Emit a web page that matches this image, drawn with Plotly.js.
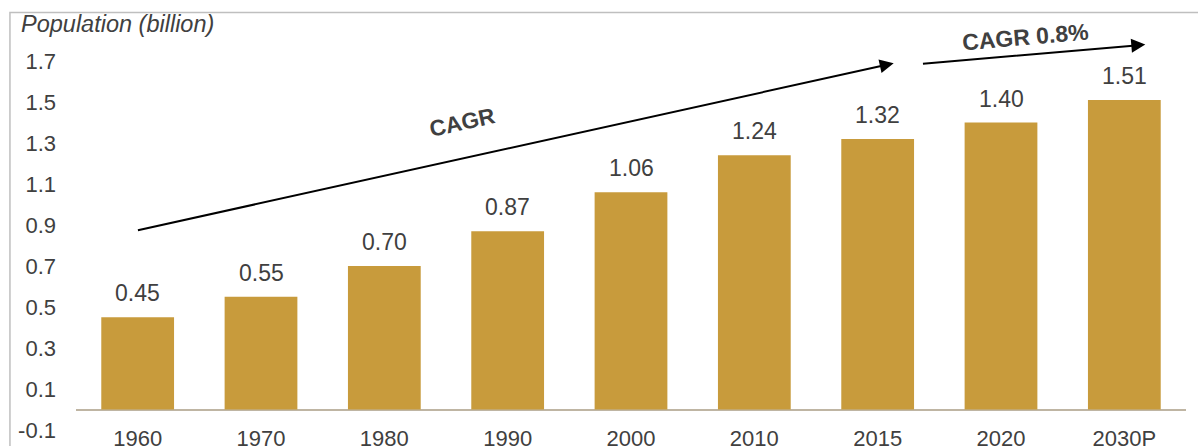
<!DOCTYPE html>
<html>
<head>
<meta charset="utf-8">
<script src="https://cdn.plot.ly/plotly-3.0.1.min.js"></script>
<style>html,body{margin:0;padding:0;background:#fff;}#chart{width:1198px;height:446px;}</style>
</head>
<body>
<div id="chart"></div>
<script>
const categories = ["1960","1970","1980","1990","2000","2010","2015","2020","2030P"];
const population = [0.45, 0.55, 0.70, 0.87, 1.06, 1.24, 1.32, 1.40, 1.51];
const valueLabels = ["0.45","0.55","0.70","0.87","1.06","1.24","1.32","1.40","1.51"];
const yTickVals = [-0.1, 0.1, 0.3, 0.5, 0.7, 0.9, 1.1, 1.3, 1.5, 1.7];
const yTickText = ["-0.1","0.1","0.3","0.5","0.7","0.9","1.1","1.3","1.5","1.7"];

const barColor = "#C89B3C";
const textColor = "#404040";
const font = "Liberation Sans, Arial, sans-serif";
const idx = categories.map((_, i) => i);

const trace = {
  type: "bar",
  x: idx,
  y: population,
  marker: {color: barColor},
  hoverinfo: "none"
};

const annotations = idx.map(i => ({
  x: i, y: population[i], xref: "x", yref: "y",
  text: valueLabels[i], showarrow: false, yshift: 24,
  font: {family: font, size: 23, color: textColor}
}));

annotations.push({
  xref: "paper", yref: "paper", x: -0.0515, y: 1.1, xanchor: "left", yanchor: "middle",
  text: "<i>Population (billion)</i>", showarrow: false,
  font: {family: font, size: 23.5, color: textColor}
});
// long-term arrow
annotations.push({
  xref: "x", yref: "y", axref: "x", ayref: "y",
  x: 6.13, y: 1.689, ax: -0.01, ay: 0.873,
  text: "", showarrow: true, arrowhead: 2, arrowsize: 1.4, arrowwidth: 2, arrowcolor: "#000"
});
annotations.push({
  xref: "x", yref: "y", x: 2.63, y: 1.4, text: "<b>CAGR</b>", showarrow: false, textangle: -12.5,
  font: {family: font, size: 22.5, color: textColor}
});
// short-term arrow
annotations.push({
  xref: "x", yref: "y", axref: "x", ayref: "y",
  x: 8.17, y: 1.78, ax: 6.355, ay: 1.686,
  text: "", showarrow: true, arrowhead: 2, arrowsize: 1.4, arrowwidth: 2, arrowcolor: "#000"
});
annotations.push({
  xref: "paper", yref: "paper", x: 0.855, y: 1.066, xanchor: "center", yanchor: "middle",
  text: "<b>CAGR 0.8%</b>", showarrow: false, textangle: -5,
  font: {family: font, size: 23, color: textColor}
});

const layout = {
  width: 1198, height: 446,
  margin: {l: 76, r: 12, t: 60.5, b: 15.5, pad: 0},
  paper_bgcolor: "#fff", plot_bgcolor: "#fff",
  showlegend: false,
  bargap: 0.41,
  font: {family: font, size: 22, color: textColor},
  xaxis: {
    range: [-0.5, 8.5], tickvals: idx, ticktext: categories,
    showgrid: false, zeroline: false, showline: false,
    ticks: "", tickfont: {family: font, size: 22, color: textColor},
    ticklabelstandoff: -7, fixedrange: true
  },
  yaxis: {
    range: [-0.1, 1.7], tickvals: yTickVals, ticktext: yTickText,
    showgrid: false, zeroline: true, zerolinecolor: "#BFB5A3", zerolinewidth: 2,
    showline: false, ticks: "", ticklabelstandoff: 19,
    tickfont: {family: font, size: 22, color: textColor}, fixedrange: true
  },
  annotations: annotations,
  shapes: [{
    type: "rect", xref: "paper", yref: "paper",
    x0: -0.0595, x1: 1.1, y0: -0.2, y1: 1.1313,
    line: {color: "#BFBFBF", width: 1.5}, layer: "below"
  }]
};

Plotly.newPlot("chart", [trace], layout, {displayModeBar: false, staticPlot: true});
</script>
</body>
</html>
